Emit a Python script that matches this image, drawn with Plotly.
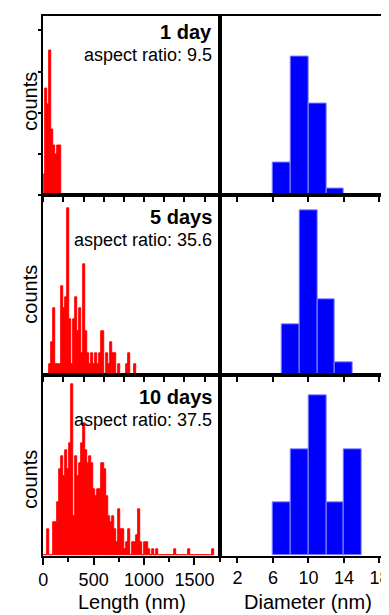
import numpy as np
import plotly.graph_objects as go
from plotly.subplots import make_subplots

# The page body has an 8 px margin, so the figure is sized to fit the window.
OFF = 8
W, H = 389 - OFF, 615 - OFF
FONT = "Liberation Sans, Arial, sans-serif"

# ---- Length histograms (20 nm bins starting at 0 nm) ----
length_bin_nm = 20
counts_1day = [5, 26, 22, 35, 16, 12, 10, 12, 12]
counts_5days = [0, 0, 0, 1, 3, 6, 1, 1, 1, 8, 6, 7, 15, 5, 1, 5, 7, 4, 6, 2,
                10, 4, 2, 1, 2, 1, 2, 1, 2, 4, 0, 2, 1, 3, 2, 2, 0, 1, 0, 0,
                0, 1, 2, 0, 0, 1]
counts_10days = [0, 0, 4, 0, 0, 5, 5, 8, 13, 15, 12, 16, 13, 17, 26, 6, 15, 12, 14, 17,
                 20, 16, 14, 15, 14, 10, 9, 10, 10, 14, 13, 9, 6, 5, 6, 4, 2, 7, 4, 4,
                 1, 2, 4, 0, 2, 2, 3, 7, 2, 0, 2, 2, 1, 0, 1, 0, 1, 0, 0, 0,
                 0, 0, 0, 0, 0, 1, 0, 0, 0, 0, 0, 0, 1, 0, 0, 0, 0, 0, 0, 0,
                 0, 0, 0, 0, 1]

# ---- Diameter histograms (2 nm bins) ----
diam_bin_nm = 2
diam_left_1day = [6, 8, 10, 12]
diam_counts_1day = [5, 21, 14, 1]
diam_left_5days = [7, 9, 11, 13]
diam_counts_5days = [4, 13, 6, 1]
diam_left_10days = [6, 8, 10, 12, 14]
diam_counts_10days = [1, 2, 3, 1, 2]

labels = ["1 day", "5 days", "10 days"]
aspect = ["9.5", "35.6", "37.5"]

length_ymax = [43.6, 16.2, 27.3]
diam_ymax = [27.3, 14.2, 3.38]

length_ticks_bottom = [0, 500, 1000, 1500]
diam_ticks = [2, 6, 10, 14, 18]

length_sets = [counts_1day, counts_5days, counts_10days]
diam_sets = [(diam_left_1day, diam_counts_1day),
             (diam_left_5days, diam_counts_5days),
             (diam_left_10days, diam_counts_10days)]

# pixel layout (in window pixels)
xl0, xl1, xr1 = 38.7, 218.0, 389.0
row_px = [(15.5, 195.3), (195.3, 375.3), (375.3, 555.5)]


def px2x(p):
    return (p - OFF) / W


def px2y(p):
    return 1 - (p - OFF) / H


fig = make_subplots(rows=3, cols=2, horizontal_spacing=0, vertical_spacing=0)

for r in range(3):
    cnt = length_sets[r]
    centers = [length_bin_nm * (i + 0.5) for i in range(len(cnt))]
    fig.add_trace(go.Bar(x=centers, y=cnt, width=length_bin_nm,
                         marker=dict(color="#ff0000", line=dict(width=1, color="#ff0000")),
                         showlegend=False), row=r + 1, col=1)
    lefts, dc = diam_sets[r]
    dcent = [v + diam_bin_nm / 2 for v in lefts]
    fig.add_trace(go.Bar(x=dcent, y=dc, width=diam_bin_nm,
                         marker=dict(color="#0000ff", line=dict(width=1, color="#8a8aff")),
                         showlegend=False), row=r + 1, col=2)

axis_common = dict(showline=True, linecolor="black", linewidth=2, showgrid=False,
                   zeroline=False, ticks="outside", tickcolor="black", tickwidth=1.5,
                   tickfont=dict(family=FONT, size=18, color="black"))

for r in range(3):
    y0p, y1p = row_px[r]
    ydom = [px2y(y1p), px2y(y0p)]
    # left column
    xa = dict(axis_common)
    xa.update(domain=[px2x(xl0), px2x(xl1)], range=[0, 1750], mirror=True)
    if r == 2:
        xa.update(tickmode="array", tickvals=length_ticks_bottom, ticklen=7,
                  showticklabels=True, ticklabeloverflow="allow",
                  minor=dict(dtick=250, ticks="outside", ticklen=4, tickwidth=1.5,
                             tickcolor="black", showgrid=False))
    else:
        xa.update(tickmode="linear", tick0=0, dtick=200, ticklen=5, showticklabels=False)
    fig.update_xaxes(xa, row=r + 1, col=1)
    ya = dict(axis_common)
    ya.update(domain=ydom, range=[0, length_ymax[r]], mirror=True, showticklabels=False)
    if r == 0:
        ya.update(tickmode="linear", tick0=0, dtick=10, ticklen=3)
    else:
        ya.update(ticks="")
    fig.update_yaxes(ya, row=r + 1, col=1)

    # right column
    xb = dict(axis_common)
    xb.update(domain=[px2x(xl1), 1.0], range=[0, (xr1 - xl1) / 9.02], mirror=True,
              tickmode="array", tickvals=diam_ticks, ticklen=5,
              showticklabels=(r == 2), ticklabeloverflow="allow")
    fig.update_xaxes(xb, row=r + 1, col=2)
    yb = dict(axis_common)
    yb.update(domain=ydom, range=[0, diam_ymax[r]], mirror=False, ticks="",
              showticklabels=False)
    fig.update_yaxes(yb, row=r + 1, col=2)

annotations = []
label_y = [(32, 55), (217, 240), (396.7, 419.5)]
counts_y = [101, 294, 479]
for r in range(3):
    annotations.append(dict(text="<b>%s</b>" % labels[r], xref="paper", yref="paper",
                            x=px2x(212.5), y=px2y(label_y[r][0]), xanchor="right",
                            yanchor="middle", showarrow=False,
                            font=dict(family=FONT, size=20, color="black")))
    annotations.append(dict(text="aspect ratio: %s" % aspect[r], xref="paper", yref="paper",
                            x=px2x(212.5), y=px2y(label_y[r][1]), xanchor="right",
                            yanchor="middle", showarrow=False,
                            font=dict(family=FONT, size=18, color="black")))
    annotations.append(dict(text="counts", xref="paper", yref="paper", textangle=-90,
                            x=px2x(25), y=px2y(counts_y[r]), xanchor="center",
                            yanchor="middle", showarrow=False,
                            font=dict(family=FONT, size=20, color="black")))

annotations.append(dict(text="Length (nm)", xref="paper", yref="paper",
                        x=px2x(128.8), y=px2y(602), xanchor="center", yanchor="middle",
                        showarrow=False, font=dict(family=FONT, size=20, color="black")))
annotations.append(dict(text="Diameter (nm)", xref="paper", yref="paper",
                        x=px2x(308), y=px2y(602), xanchor="center", yanchor="middle",
                        showarrow=False, font=dict(family=FONT, size=20, color="black")))

fig.update_layout(width=W, height=H, margin=dict(l=0, r=0, t=0, b=0),
                  paper_bgcolor="white", plot_bgcolor="white", bargap=0,
                  annotations=annotations, font=dict(family=FONT, color="black"))

fig.write_html("out.html")
